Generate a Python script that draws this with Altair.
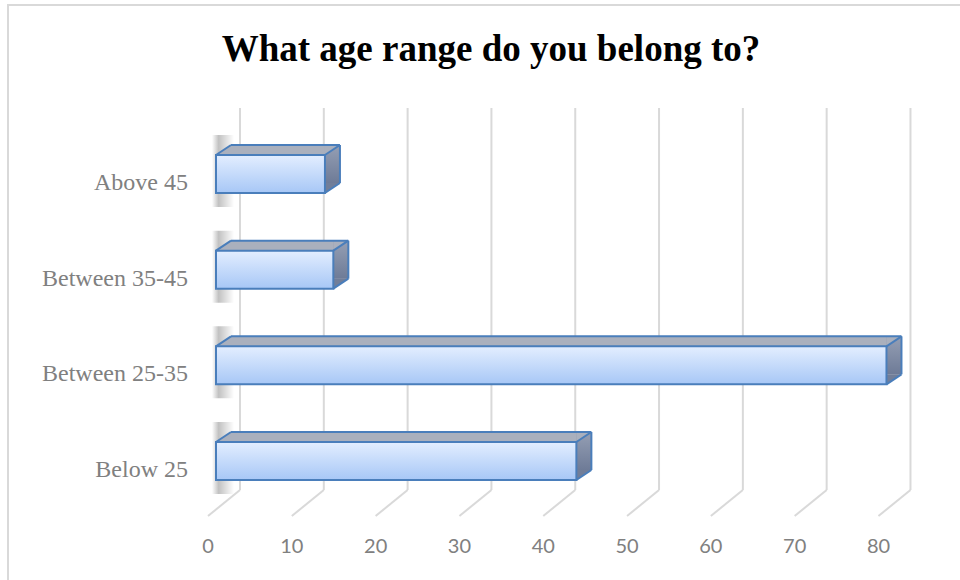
import altair as alt
import pandas as pd

# ---- data ----
categories = ["Above 45", "Between 35-45", "Between 25-35", "Below 25"]
values = [13, 14, 80, 43]
ticks = [0, 10, 20, 30, 40, 50, 60, 70, 80]
title_text = "What age range do you belong to?"

df = pd.DataFrame({"cat": categories, "value": values,
                   "idx": list(range(len(categories))), "zero": [0] * len(categories)})
tdf = pd.DataFrame({"tick": ticks})
one = pd.DataFrame({"title": [title_text]})

W, H = 704, 410
PL, PT = 216, 108
D, Hd = 15, 10          # depth of the 3D bar (px)
BH = 38                 # front face height
half = BH / 2

xs = alt.Scale(domain=[0, 84], nice=False, zero=True)
ys = alt.Scale(domain=[0, len(categories) - 1], range=[66, 353], nice=False, zero=False)

def X(f):
    return alt.X(f, scale=xs, axis=None)

def Yq(f="idx:Q"):
    return alt.Y(f, scale=ys, axis=None)

TOP = "#aab0bd"
EDGE = "#4a7ebb"
GRID = "#d9d9d9"
LABEL = "#808080"
front_grad = alt.Gradient(gradient="linear",
                          stops=[alt.GradientStop(color="#e3eeff", offset=0),
                                 alt.GradientStop(color="#a7c7f6", offset=1)],
                          x1=0, x2=0, y1=0, y2=1)
side_grad = alt.Gradient(gradient="linear",
                         stops=[alt.GradientStop(color="#959fb4", offset=0),
                                alt.GradientStop(color="#6e7b97", offset=1)],
                         x1=0, x2=0, y1=0, y2=1)
shadow_grad = alt.Gradient(gradient="linear",
                           stops=[alt.GradientStop(color="#ffffff", offset=0),
                                  alt.GradientStop(color="#8f8f8f", offset=0.3),
                                  alt.GradientStop(color="#ffffff", offset=1)],
                           x1=0, x2=1, y1=0, y2=0)

# chart border (only left & top visible in the reference)
border = alt.Chart(one).mark_rect(fillOpacity=0, stroke=GRID, strokeWidth=2).encode(
    x=alt.value(8 - PL), x2=alt.value(970 - PL),
    y=alt.value(5 - PT), y2=alt.value(600 - PT))

title = alt.Chart(one).mark_text(font="Liberation Serif", fontSize=37, fontWeight="bold",
                                 color="black", align="center", baseline="alphabetic").encode(
    x=alt.value(491 - PL), y=alt.value(61 - PT), text="title:N")

# back-wall grid lines
grid_v = alt.Chart(tdf).mark_rule(color=GRID, strokeWidth=2, xOffset=24).encode(
    x=X("tick:Q"), y=alt.value(0), y2=alt.value(382))
grid_d = alt.Chart(tdf).mark_rule(color=GRID, strokeWidth=2, xOffset=24, x2Offset=-8).encode(
    x=X("tick:Q"), x2="tick", y=alt.value(382), y2=alt.value(408))

# value axis labels (front plane)
xlabels = alt.Chart(tdf).mark_text(font="Lato", fontSize=20, color=LABEL, align="center",
                                   baseline="alphabetic", xOffset=-8).encode(
    x=X("tick:Q"), y=alt.value(553 - PT), text="tick:Q")

base = alt.Chart(df)

# category labels
ylabels = base.mark_text(font="Liberation Serif", fontSize=24, color=LABEL, align="right",
                         baseline="middle", yOffset=9).encode(
    x=alt.value(188 - PL), y=Yq(), text="cat:N")

shadow = base.mark_rect(color=shadow_grad, opacity=0.55, xOffset=-4, x2Offset=18,
                        yOffset=-half - 20, y2Offset=half + 14).encode(
    x=X("zero:Q"), x2="zero", y=Yq(), y2="idx")

topface = base.mark_rect(color=TOP, xOffset=D, x2Offset=D,
                         yOffset=-half - Hd, y2Offset=half - Hd).encode(
    x=X("zero:Q"), x2="value", y=Yq(), y2="idx")
side = base.mark_rect(color=side_grad, xOffset=0, x2Offset=D,
                      yOffset=-half - Hd, y2Offset=half - Hd).encode(
    x=X("value:Q"), x2="value", y=Yq(), y2="idx")

tri_tl = base.mark_point(shape="M-1,0.667L1,-0.667L1,0.667Z", size=D * D, filled=True,
                         fill=TOP, strokeWidth=0, opacity=1,
                         xOffset=D / 2, yOffset=-half - Hd / 2).encode(
    x=X("zero:Q"), y=Yq())
tri_tr = base.mark_point(shape="M-1,-0.667L1,-0.667L-1,0.667Z", size=D * D, filled=True,
                         fill=TOP, strokeWidth=0, opacity=1,
                         xOffset=D / 2, yOffset=-half - Hd / 2).encode(
    x=X("value:Q"), y=Yq())
tri_br = base.mark_point(shape="M-1,0.667L-1,-0.667L1,-0.667Z", size=D * D, filled=True,
                         fill="#717e99", strokeWidth=0, opacity=1,
                         xOffset=D / 2, yOffset=half - Hd / 2).encode(
    x=X("value:Q"), y=Yq())

front = base.mark_rect(color=front_grad, stroke=EDGE, strokeWidth=2,
                       yOffset=-half, y2Offset=half).encode(
    x=X("zero:Q"), x2="value", y=Yq(), y2="idx")

edge_kw = dict(color=EDGE, strokeWidth=2)
e_top = base.mark_rule(xOffset=D, x2Offset=D, yOffset=-half - Hd, y2Offset=-half - Hd,
                       **edge_kw).encode(x=X("zero:Q"), x2="value", y=Yq(), y2="idx")
e_right = base.mark_rule(xOffset=D, x2Offset=D, yOffset=-half - Hd, y2Offset=half - Hd,
                         **edge_kw).encode(x=X("value:Q"), x2="value", y=Yq(), y2="idx")
e_tl = base.mark_rule(x2Offset=D, yOffset=-half, y2Offset=-half - Hd, **edge_kw).encode(
    x=X("zero:Q"), x2="zero", y=Yq(), y2="idx")
e_tr = base.mark_rule(x2Offset=D, yOffset=-half, y2Offset=-half - Hd, **edge_kw).encode(
    x=X("value:Q"), x2="value", y=Yq(), y2="idx")
e_br = base.mark_rule(x2Offset=D, yOffset=half, y2Offset=half - Hd, **edge_kw).encode(
    x=X("value:Q"), x2="value", y=Yq(), y2="idx")

chart = alt.layer(
    border, title, grid_v, grid_d, xlabels, ylabels, shadow, topface, side,
    tri_tl, tri_tr, tri_br, front, e_top, e_right, e_tl, e_tr, e_br
).properties(
    width=W, height=H,
    autosize=alt.AutoSizeParams(type="none"),
    padding={"left": PL, "top": PT, "right": 960 - PL - W, "bottom": 580 - PT - H},
    background="white",
).configure_view(stroke=None)

chart.save("out.html", embed_options={"renderer": "svg", "actions": False})
